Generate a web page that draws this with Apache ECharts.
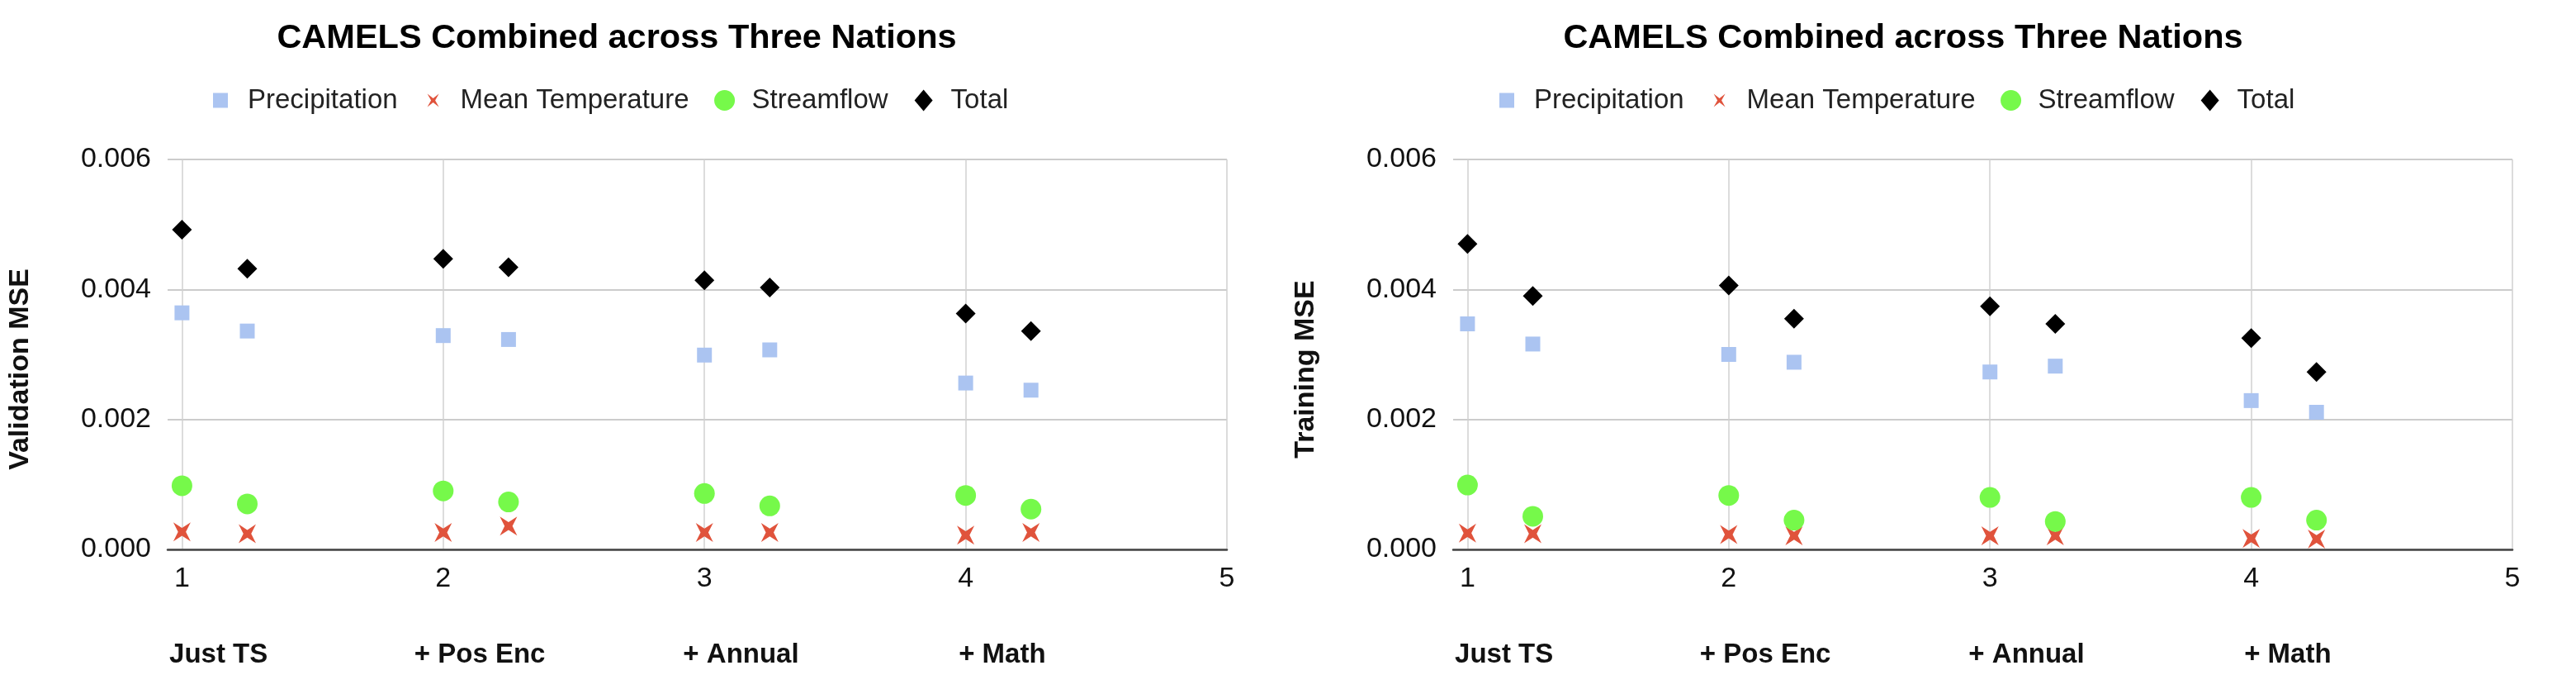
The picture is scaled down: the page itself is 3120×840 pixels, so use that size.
<!DOCTYPE html>
<html>
<head>
<meta charset="utf-8">
<script src="https://cdn.jsdelivr.net/npm/echarts@6/dist/echarts.min.js"></script>
<style>
  html, body { margin: 0; padding: 0; background: #fff; }
  #chart { width: 3120px; height: 840px; }
</style>
</head>
<body>
<div id="chart"></div>
<script>
// x position of every point: model number, two runs per model
var xs = [1, 1.25, 2, 2.25, 3, 3.25, 4, 4.25];
var xTicks = [1, 2, 3, 4, 5];
var models = ['Just TS', '+ Pos Enc', '+ Annual', '+ Math'];
var modelPos = [1, 2, 3, 4];
var seriesNames = ['Precipitation', 'Mean Temperature', 'Streamflow', 'Total'];

// validation MSE
var valPrecip = [0.00364, 0.00336, 0.00329, 0.00323, 0.00299, 0.00307, 0.00256, 0.00245];
var valTemp   = [0.00027, 0.00024, 0.00026, 0.00036, 0.00026, 0.00026, 0.00022, 0.00026];
var valFlow   = [0.00098, 0.00070, 0.00090, 0.00073, 0.00086, 0.00067, 0.00083, 0.00062];
var valTotal  = [0.00492, 0.00432, 0.00447, 0.00434, 0.00414, 0.00403, 0.00363, 0.00336];

// training MSE
var trPrecip = [0.00347, 0.00316, 0.00300, 0.00288, 0.00273, 0.00282, 0.00229, 0.00211];
var trTemp   = [0.00025, 0.00024, 0.00023, 0.00021, 0.00021, 0.00021, 0.00017, 0.00016];
var trFlow   = [0.00099, 0.00051, 0.00083, 0.00045, 0.00080, 0.00043, 0.00080, 0.00045];
var trTotal  = [0.00470, 0.00390, 0.00406, 0.00355, 0.00374, 0.00347, 0.00325, 0.00273];

var FONT = '"Liberation Sans", Arial, sans-serif';
var colors = ['#abc4f1', '#e0533c', '#76f94a', '#000000'];
var crossPath = 'path://M-10,-11 L0,-4.5 L10,-11 L4.5,0 L10,11 L0,4.5 L-10,11 L-4.5,0 Z';
var symbols = ['rect', crossPath, 'circle', 'diamond'];
var sizes = [18, [21, 23], 25, 24];
// legend icons padded inside a 26x26 box so that they keep their own size
var legendIcons = [
  'path://M0,0 M4,4 L22,4 L22,22 L4,22 Z M26,26',
  'path://M0,0 M6,5 L13,10.5 L20,5 L15.5,13 L20,21 L13,15.5 L6,21 L10.5,13 Z M26,26',
  'path://M0,0 M13,0.5 A12.5,12.5 0 1,1 13,25.5 A12.5,12.5 0 1,1 13,0.5 Z M26,26',
  'path://M0,0 M13,0 L24,13 L13,26 L2,13 Z M26,26'
];

function pairs(vals) {
  return vals.map(function (v, i) { return [xs[i], v]; });
}

var xMin = 0.945;
var labelShift = 0.14;

var chart = echarts.init(document.getElementById('chart'));

function panel(idx, left, centerX, yName, sets) {
  var grid = {
    left: left, width: 1283, top: 193, bottom: 175,
    outerBoundsMode: 'none', containLabel: false
  };
  var xMain = {
    type: 'value', gridIndex: idx, min: xMin, max: 5,
    axisLine: { show: true, lineStyle: { color: '#444', width: 2.5 } },
    axisTick: { show: false, customValues: xTicks },
    axisLabel: {
      customValues: xTicks, margin: 19, color: '#111',
      fontFamily: FONT, fontSize: 34,
      formatter: function (v) { return String(Math.round(v)); }
    },
    splitLine: { show: true, lineStyle: { color: '#d0d0d0', width: 1.5 } }
  };
  var catPos = modelPos.map(function (p) { return p + labelShift; });
  var xCat = {
    type: 'value', gridIndex: idx, min: xMin, max: 5, position: 'bottom', offset: 91,
    axisLine: { show: false },
    axisTick: { show: false, customValues: catPos },
    axisLabel: {
      customValues: catPos,
      margin: 20, color: '#111', fontFamily: FONT, fontSize: 33, fontWeight: 'bold',
      formatter: function (v) { return models[Math.round(v - labelShift) - 1]; }
    },
    splitLine: { show: false }
  };
  var yAx = {
    type: 'value', gridIndex: idx, min: 0, max: 0.006, interval: 0.002,
    name: yName, nameLocation: 'middle', nameGap: 161, nameRotate: 90,
    nameTextStyle: {
      fontFamily: FONT, fontSize: 34, fontWeight: 'bold', color: '#111',
      padding: [0, 36, 0, 0]
    },
    axisLine: { show: false },
    axisTick: { show: false },
    axisLabel: {
      margin: 20, color: '#111', fontFamily: FONT, fontSize: 34,
      formatter: function (v) { return v.toFixed(3); }
    },
    splitLine: { show: true, lineStyle: { color: '#cccccc', width: 2 } }
  };
  var series = sets.map(function (vals, k) {
    return {
      name: seriesNames[k], type: 'scatter',
      xAxisIndex: idx * 2, yAxisIndex: idx,
      symbol: symbols[k], symbolSize: sizes[k],
      itemStyle: { color: colors[k], opacity: 1 },
      emphasis: { disabled: true },
      data: pairs(vals)
    };
  });
  var title = {
    text: 'CAMELS Combined across Three Nations',
    left: centerX, top: 26, textAlign: 'center', padding: 0,
    textStyle: { fontFamily: FONT, fontSize: 41.5, fontWeight: 'bold', color: '#000' }
  };
  var legend = {
    left: centerX - 493, top: 105, padding: 0,
    itemWidth: 56, itemHeight: 26, itemGap: 30,
    textStyle: { fontFamily: FONT, fontSize: 33, color: '#222' },
    data: seriesNames.map(function (n, k) { return { name: n, icon: legendIcons[k] }; })
  };
  return { grid: grid, xAxes: [xMain, xCat], yAxis: yAx, series: series, title: title, legend: legend };
}

var p1 = panel(0, 203, 747, 'Validation MSE', [valPrecip, valTemp, valFlow, valTotal]);
var p2 = panel(1, 1760, 2305, 'Training MSE', [trPrecip, trTemp, trFlow, trTotal]);

chart.setOption({
  animation: false,
  backgroundColor: '#ffffff',
  title: [p1.title, p2.title],
  legend: [p1.legend, p2.legend],
  grid: [p1.grid, p2.grid],
  xAxis: p1.xAxes.concat(p2.xAxes),
  yAxis: [p1.yAxis, p2.yAxis],
  series: p1.series.concat(p2.series)
});
</script>
</body>
</html>
